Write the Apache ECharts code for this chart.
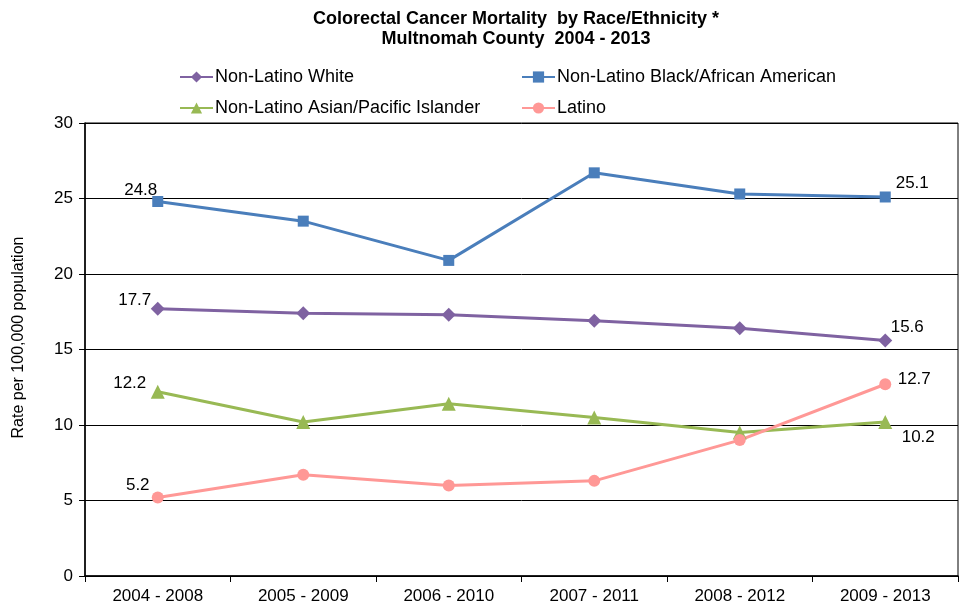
<!DOCTYPE html>
<html><head><meta charset="utf-8">
<script src="https://cdn.jsdelivr.net/npm/echarts@6/dist/echarts.min.js"></script>
<style>html,body{margin:0;padding:0;background:#fff}#c{width:963px;height:611px}</style>
</head><body><div id="c"></div>
<script>
const categories = ['2004 - 2008','2005 - 2009','2006 - 2010','2007 - 2011','2008 - 2012','2009 - 2013'];
const white = [17.7, 17.4, 17.3, 16.9, 16.4, 15.6];
const black = [24.8, 23.5, 20.9, 26.7, 25.3, 25.1];
const asian = [12.2, 10.2, 11.4, 10.5, 9.5, 10.2];
const latino = [5.2, 6.7, 6.0, 6.3, 9.0, 12.7];
const names = ['Non-Latino White','Non-Latino Black/African American','Non-Latino Asian/Pacific Islander','Latino'];
const colors = ['#7F62A1','#4A7EBB','#98B954','#FF9896'];
const symbols = ['diamond','rect','triangle','circle'];
const sizes = [14,11,14,12];
const labelOffsets = [
  [[-23,-8],[22,-13]],
  [[-17,-11],[27,-14]],
  [[-28,-8],[33,15]],
  [[-20,-12],[29,-5]]
];
const font = 'Liberation Sans, Arial, sans-serif';
function mk(i, vals){
  const last = vals.length-1;
  return {
    name: names[i], type:'line', data: vals.map((v,k)=>{
      if(k===0||k===last){
        return {value:v, label:{show:true, position:'inside', offset: labelOffsets[i][k===0?0:1],
          formatter: p=>p.value.toFixed(1), color:'#000', fontSize:17, fontFamily:font}};
      }
      return v;
    }),
    symbol: symbols[i], symbolSize: sizes[i], showAllSymbol:true,
    lineStyle:{color:colors[i], width:3}, itemStyle:{color:colors[i]},
    label:{show:false}, animation:false, z: 3
  };
}
const legendPos = [[174,63],[516,63],[174,94],[516,94]];
const chart = echarts.init(document.getElementById('c'));
chart.setOption({
  backgroundColor:'#fff',
  title:{text:'Colorectal Cancer Mortality  by Race/Ethnicity *\nMultnomah County  2004 - 2013', left:511, top:4,
    textAlign:'center',
    textStyle:{fontFamily:font, fontSize:18, fontWeight:'bold', color:'#000', lineHeight:20}},
  legend: names.map((n,i)=>({data:[n], left:legendPos[i][0], top:legendPos[i][1], itemWidth:33, itemHeight:14, itemGap:2,
    textStyle:{fontFamily:font, fontSize:18, color:'#000', padding:[0,0,0,-3]}})),
  grid:{left:85, right:5, top:123, bottom:35, show:true, borderColor:'#000', borderWidth:1},
  xAxis:{type:'category', data:categories, boundaryGap:true,
    axisLine:{lineStyle:{color:'#000', width:1.5}}, axisTick:{show:true, length:6, lineStyle:{color:'#000'}},
    axisLabel:{fontFamily:font, fontSize:17, color:'#000', margin:12}},
  yAxis:{type:'value', min:0, max:30, interval:5,
    name:'Rate per 100,000 population', nameLocation:'middle', nameGap:58, nameRotate:90,
    nameTextStyle:{fontFamily:font, fontSize:16, color:'#000', padding:[0,0,0,24]},
    axisLine:{show:true, lineStyle:{color:'#000', width:1.5}}, axisTick:{show:true, length:6, lineStyle:{color:'#000'}},
    axisLabel:{fontFamily:font, fontSize:17, color:'#000', margin:12},
    splitLine:{lineStyle:{color:'#000', width:1}}},
  series:[mk(0,white), mk(1,black), mk(2,asian), mk(3,latino)]
});
</script></body></html>
